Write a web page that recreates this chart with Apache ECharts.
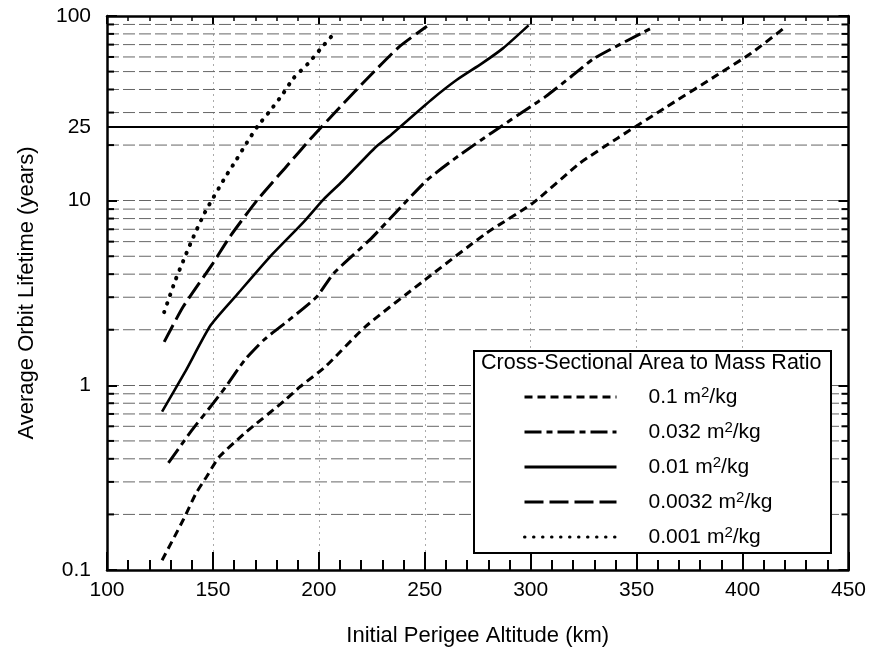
<!DOCTYPE html>
<html>
<head>
<meta charset="utf-8">
<script src="https://cdn.jsdelivr.net/npm/echarts@6/dist/echarts.min.js"></script>
<style>
html,body{margin:0;padding:0;background:#fff;}
#chart{width:869px;height:656px;}
</style>
</head>
<body>
<div id="chart"></div>
<script>
// ---- Data ----
const seriesNames = ['0.1 m²/kg', '0.032 m²/kg', '0.01 m²/kg', '0.0032 m²/kg', '0.001 m²/kg'];

const alt_0_1 = [126, 136, 142, 147, 153, 165, 184, 191, 203, 222, 250, 279, 301, 323, 341, 363, 388, 404, 419];
const life_0_1 = [0.113, 0.187, 0.26, 0.32, 0.41, 0.55, 0.83, 0.98, 1.26, 2.08, 3.72, 6.66, 9.7, 15.9, 21.8, 31.6, 47.9, 62.8, 85];

const alt_0_032 = [129, 140, 149, 156, 165, 174, 187, 199, 207, 224, 236, 251, 266, 282, 300, 307, 319, 330, 357];
const life_0_032 = [0.38, 0.57, 0.77, 0.98, 1.37, 1.76, 2.31, 3.02, 4.04, 6.13, 8.55, 12.9, 17.5, 23.5, 32.3, 36.6, 46.9, 59, 86];

const alt_0_01 = [126, 137, 149, 162, 177, 193, 202, 211, 227, 234, 253, 265, 277, 287, 299];
const life_0_01 = [0.72, 1.19, 2.12, 3.16, 4.98, 7.7, 10.1, 12.7, 19.6, 22.7, 35.1, 45, 55.4, 67, 89];

const alt_0_0032 = [127, 136, 150, 158, 171, 184, 197, 211, 223, 238, 251];
const life_0_0032 = [1.72, 2.67, 4.58, 6.38, 10.1, 15, 22.2, 33, 46, 68.2, 88];

const alt_0_001 = [127, 132, 136, 140, 146, 156, 161, 166, 171, 177, 183, 188, 195, 201, 207];
const life_0_001 = [2.49, 3.64, 4.72, 6.07, 8.55, 13.5, 16.6, 20.6, 25.2, 30.7, 37.8, 46, 55.4, 66.8, 80];

const xMin = 100, xMax = 450, xStep = 50;
const yMin = 0.1, yMax = 100;
const thresholdLife = 25;
const yMinorValues = [0.2,0.3,0.4,0.5,0.6,0.7,0.8,0.9, 2,3,4,5,6,7,8,9, 20,30,40,50,60,70,80,90];

const xName = 'Initial Perigee Altitude (km)';
const yName = 'Average Orbit Lifetime (years)';
const legendTitle = 'Cross-Sectional Area to Mass Ratio';

// ---- Build ----
function zip(xs, ys){ return xs.map((x,i)=>[x, ys[i]]); }
const allAlt = [alt_0_1, alt_0_032, alt_0_01, alt_0_0032, alt_0_001];
const allLife = [life_0_1, life_0_032, life_0_01, life_0_0032, life_0_001];
const dashTypes = [[8,5], [17,5,6,5], 'solid', [19,6], [0.5,8.5]];
const widths = [3, 3, 2.6, 3, 4];

const FONT = 'Liberation Sans, Arial, Helvetica, sans-serif';

const chart = echarts.init(document.getElementById('chart'));

const lineSeries = seriesNames.map((name, i) => ({
  name: name,
  type: 'line',
  data: zip(allAlt[i], allLife[i]),
  symbol: 'none',
  smooth: 0.2,
  z: 5,
  lineStyle: { color: '#000', width: widths[i], type: dashTypes[i], cap: i === 4 ? 'round' : 'butt' },
  itemStyle: { color: '#000' }
}));

const minorSeries = {
  type: 'custom',
  name: 'minor',
  silent: true,
  z: 2,
  clip: false,
  data: yMinorValues.map(v => [xMin, v]),
  renderItem: function (params, api) {
    const v = api.value(1);
    const pL = api.coord([xMin, v]);
    const pR = api.coord([xMax, v]);
    return {
      type: 'group',
      children: [
        { type: 'line', shape: { x1: pL[0], y1: pL[1], x2: pR[0], y2: pR[1] },
          style: { stroke: '#666', lineWidth: 1, lineDash: [12, 4] } },
        { type: 'line', shape: { x1: pL[0], y1: pL[1], x2: pL[0] + 7, y2: pL[1] },
          style: { stroke: '#000', lineWidth: 2 } },
        { type: 'line', shape: { x1: pR[0], y1: pR[1], x2: pR[0] - 7, y2: pR[1] },
          style: { stroke: '#000', lineWidth: 2 } }
      ]
    };
  }
};

const thresholdSeries = {
  type: 'line',
  name: 'threshold',
  data: [],
  silent: true,
  markLine: {
    silent: true,
    symbol: 'none',
    lineStyle: { color: '#000', width: 2, type: 'solid' },
    label: {
      show: true, position: 'start', formatter: String(thresholdLife),
      fontSize: 21, color: '#000', fontFamily: FONT, distance: 16
    },
    data: [{ yAxis: thresholdLife }]
  }
};

const option = {
  backgroundColor: '#fff',
  animation: false,
  textStyle: { fontFamily: FONT, color: '#000' },
  grid: { left: 107, right: 18, top: 16, bottom: 86, containLabel: false },
  xAxis: [{
    type: 'value', min: xMin, max: xMax, interval: xStep,
    name: xName, nameLocation: 'middle', nameGap: 55,
    nameTextStyle: { fontSize: 22, color: '#000', fontFamily: FONT },
    axisLine: { show: true, onZero: false, lineStyle: { color: '#000', width: 2.5 } },
    axisTick: { show: true, inside: true, length: 18, lineStyle: { color: '#000', width: 2 } },
    minorTick: { show: true, splitNumber: 5, length: 10, lineStyle: { color: '#000', width: 2 } },
    axisLabel: { fontSize: 21, color: '#000', margin: 10, fontFamily: FONT },
    splitLine: { show: true, lineStyle: { color: '#aaa', width: 1, type: [2, 4] } }
  }, {
    type: 'value', min: xMin, max: xMax, interval: xStep, position: 'top',
    axisLine: { show: true, onZero: false, lineStyle: { color: '#000', width: 2.5 } },
    axisTick: { show: true, inside: true, length: 8, lineStyle: { color: '#000', width: 2 } },
    minorTick: { show: true, splitNumber: 5, length: 5, lineStyle: { color: '#000', width: 1.5 } },
    axisLabel: { show: false },
    splitLine: { show: false }
  }],
  yAxis: [{
    type: 'log', logBase: 10, min: yMin, max: yMax,
    name: yName, nameLocation: 'middle', nameGap: 69,
    nameTextStyle: { fontSize: 22, color: '#000', fontFamily: FONT },
    axisLine: { show: true, onZero: false, lineStyle: { color: '#000', width: 2.5 } },
    axisTick: { show: true, inside: true, length: 10, lineStyle: { color: '#000', width: 2 } },
    axisLabel: { fontSize: 21, color: '#000', margin: 16, fontFamily: FONT,
      formatter: v => String(+(+v).toPrecision(3)) },
    splitLine: { show: true, lineStyle: { color: '#666', width: 1, type: [12, 4] } }
  }, {
    type: 'log', logBase: 10, min: yMin, max: yMax, position: 'right',
    axisLine: { show: true, onZero: false, lineStyle: { color: '#000', width: 2.5 } },
    axisTick: { show: true, inside: true, length: 10, lineStyle: { color: '#000', width: 2 } },
    axisLabel: { show: false },
    splitLine: { show: false }
  }],
  graphic: [{
    type: 'rect', z: 30, left: 473, top: 350,
    shape: { width: 357, height: 202 },
    style: { fill: '#fff', stroke: '#000', lineWidth: 2 }
  }, {
    type: 'text', z: 31, left: 481, top: 352,
    style: { text: legendTitle, fontSize: 21.5, fill: '#000', fontFamily: FONT }
  }],
  legend: {
    z: 40,
    data: seriesNames,
    orient: 'vertical',
    left: 518, top: 380,
    itemWidth: 92, itemHeight: 14, itemGap: 11,
    selectedMode: false,
    lineStyle: { width: 3 },
    itemStyle: { opacity: 0, color: 'rgba(0,0,0,0)', borderWidth: 0 },
    formatter: name => name.replace('²', '{sup|2}'),
    textStyle: {
      fontSize: 21, color: '#000', fontFamily: FONT, lineHeight: 24,
      padding: [0, 0, 0, 27],
      rich: {
        sup: { fontSize: 15, lineHeight: 15, verticalAlign: 'top', fontFamily: FONT, color: '#000' }
      }
    }
  },
  series: lineSeries.concat([minorSeries, thresholdSeries])
};

chart.setOption(option);
</script>
</body>
</html>
